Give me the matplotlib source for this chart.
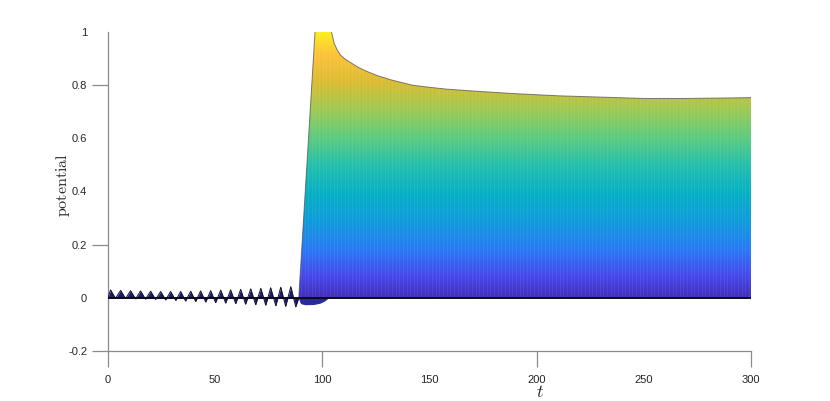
import numpy as np
import matplotlib
matplotlib.use("Agg")
import matplotlib.pyplot as plt
from matplotlib.colors import LinearSegmentedColormap, Normalize
from matplotlib.patches import PathPatch
from matplotlib.path import Path

plt.rcParams['font.family'] = ['Liberation Sans', 'DejaVu Sans']
plt.rcParams['mathtext.fontset'] = 'cm'

# ---- data ----
# oscillating part before the jump (peaks and troughs)
osc_t = [0.0, 1.2, 3.5, 5.9, 8.2, 10.5, 12.9, 15.2, 17.5, 19.9, 22.2, 24.6, 26.9,
         29.2, 31.6, 33.9, 36.2, 38.6, 40.9, 43.2, 45.6, 47.9, 50.2, 52.6, 54.9,
         57.2, 59.6, 61.9, 64.2, 66.6, 68.9, 71.3, 73.6, 75.9, 78.3, 80.6, 82.9,
         85.3, 87.6, 89.0]
osc_v = [0.0, 0.030, -0.002, 0.028, -0.003, 0.027, -0.004, 0.026, -0.005, 0.025,
         -0.006, 0.024, -0.008, 0.024, -0.010, 0.024, -0.012, 0.025, -0.014, 0.026,
         -0.016, 0.027, -0.018, 0.029, -0.020, 0.030, -0.022, 0.032, -0.024, 0.034,
         -0.026, 0.036, -0.028, 0.038, -0.030, 0.040, -0.032, 0.042, -0.034, 0.0]

# upper envelope of the surface after the jump
up_t = [89.0, 97.2, 100.0, 104.3, 105.5, 107.0, 108.5, 110.5, 113.0, 117.0, 121.0,
        126.0, 132.0, 142.0, 150.0, 158.0, 174.0, 190.0, 210.0, 230.0, 250.0,
        270.0, 290.0, 300.0]
up_v = [0.0, 1.08, 1.06, 1.0, 0.958, 0.932, 0.913, 0.899, 0.886, 0.866, 0.851,
        0.835, 0.82, 0.80, 0.792, 0.785, 0.776, 0.768, 0.76, 0.755, 0.75,
        0.75, 0.752, 0.753]

# lower envelope of the surface after the jump
low_t = [89.0, 90.0, 92.0, 96.0, 99.0, 101.0, 103.0, 300.0]
low_v = [0.0, -0.022, -0.026, -0.025, -0.02, -0.012, 0.0, 0.0]

xticks = [0, 50, 100, 150, 200, 250, 300]
yticks = [-0.2, 0, 0.2, 0.4, 0.6, 0.8, 1]
ytick_labels = ['-0.2', '0', '0.2', '0.4', '0.6', '0.8', '1']
vis_xticks = [0, 100, 200, 300]
vis_yticks = [-0.2, 0.2, 0.8]

parula = LinearSegmentedColormap.from_list('parula', [
    (0.0, (0.2422, 0.1504, 0.6603)),
    (0.1, (0.2803, 0.2782, 0.9221)),
    (0.2, (0.160, 0.480, 0.960)),
    (0.3, (0.060, 0.610, 0.860)),
    (0.4, (0.024, 0.690, 0.770)),
    (0.5, (0.140, 0.750, 0.680)),
    (0.6, (0.360, 0.800, 0.500)),
    (0.7, (0.620, 0.790, 0.330)),
    (0.8, (0.860, 0.740, 0.200)),
    (0.9, (0.990, 0.760, 0.230)),
    (1.0, (0.977, 0.984, 0.081)),
])

fig = plt.figure(figsize=(8.30, 4.01), dpi=100)
ax = fig.add_axes([0.1301, 0.1247, 0.7747, 0.7955])
ax.set_xlim(0, 300)
ax.set_ylim(-0.2, 1)

# gradient surface clipped to the envelope polygon
ut = np.array(up_t); uv = np.array(up_v)
lt = np.array(low_t); lv = np.array(low_v)
verts = np.concatenate([np.column_stack([ut, uv]), np.column_stack([lt[::-1], lv[::-1]])])
poly = Path(verts, closed=True)
patch = PathPatch(poly, facecolor='none', edgecolor='none')
ax.add_patch(patch)
grad = np.linspace(-0.04, 1.1, 400).reshape(-1, 1)
im = ax.imshow(grad, extent=[min(up_t), max(up_t), -0.04, 1.1], origin='lower',
               aspect='auto', cmap=parula, norm=Normalize(-0.03, 1.02),
               interpolation='bilinear', zorder=2)
im.set_clip_path(patch)
# faint mesh stripes
stripes = ax.vlines(np.arange(90, 300, 1.7), -0.05, 1.1, colors='white',
                    linewidth=0.6, alpha=0.08, zorder=3)
stripes.set_clip_path(patch)
ax.plot(up_t, up_v, color='#4a4a4a', lw=0.7, alpha=0.7, zorder=4)

# oscillations
ax.fill_between(osc_t, osc_v, 0, color='#1f1a6e', lw=0, zorder=3)
ax.plot(osc_t, osc_v, color='#111133', lw=0.7, zorder=4)
ax.fill_between(low_t, low_v, 0, color='#2b2a9a', lw=0, zorder=3)
# baseline
ax.plot([osc_t[0], up_t[-1]], [0, 0], color='#0a0a1a', lw=1.4, zorder=5)

# axes styling
for s in ['top', 'right']:
    ax.spines[s].set_visible(False)
for s in ['left', 'bottom']:
    ax.spines[s].set_color('#8c8c8c')
    ax.spines[s].set_linewidth(0.9)
ax.xaxis.remove_overlapping_locs = False
ax.yaxis.remove_overlapping_locs = False
ax.set_xticks(xticks)
ax.set_yticks(yticks)
ax.set_yticklabels(ytick_labels)
ax.tick_params(axis='both', which='major', length=0, labelsize=8, colors='#262626')
ax.tick_params(axis='y', which='major', pad=15)
ax.tick_params(axis='x', which='major', pad=17)
ax.set_xticks(vis_xticks, minor=True)
ax.set_yticks(vis_yticks, minor=True)
ax.tick_params(axis='both', which='minor', length=11.5, width=0.9, color='#8c8c8c')

ax.set_xlabel(r'$t$', fontsize=13, color='#262626')
ax.xaxis.set_label_coords(0.672, -0.104)
ax.set_ylabel(r'$\mathrm{potential}$', fontsize=11.5, color='#262626')
ax.yaxis.set_label_coords(-0.056, 0.52)

fig.savefig('out.png', dpi=100)
